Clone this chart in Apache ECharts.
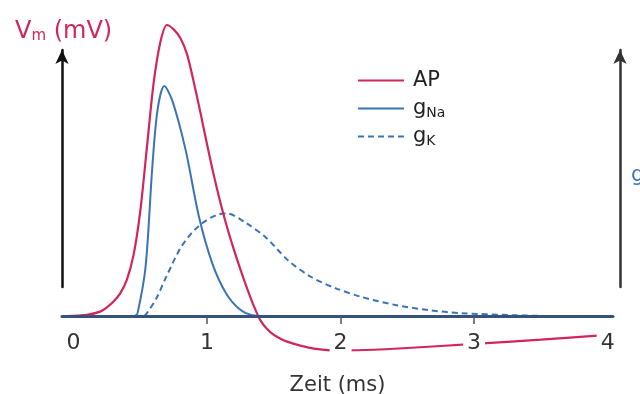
<!DOCTYPE html>
<html>
<head>
<meta charset="utf-8">
<script src="https://cdn.jsdelivr.net/npm/echarts@6/dist/echarts.min.js"></script>
<style>
  html, body { margin: 0; padding: 0; background: #fff; }
  #chart { width: 640px; height: 394px; }
</style>
</head>
<body>
<div id="chart"></div>
<script>
// time in ms, values in relative units (0 = rest / baseline)
const apTime = [-0.05, 0.1, 0.2, 0.25, 0.3, 0.35, 0.4, 0.45, 0.5, 0.55, 0.6, 0.65, 0.7, 0.75, 0.8, 0.85, 0.9, 0.95, 1.0, 1.05, 1.1, 1.15, 1.2, 1.25, 1.3, 1.35, 1.4, 1.45, 1.5, 1.55, 1.6, 1.7, 1.8, 1.9, 2.0, 2.25, 2.5, 3.0, 3.5, 4.0];
const apValue = [0, 0.4, 1.5, 3, 5, 7.8, 12.5, 21, 36, 58, 80, 94, 100, 98.5, 95.5, 90, 80.5, 70, 59, 48.5, 39, 30.5, 23, 16, 9.5, 3.5, -1.5, -4.5, -6.5, -7.8, -8.8, -10.2, -11.2, -11.7, -11.8, -11.6, -11, -9.6, -8.1, -6.5];

const gNaTime = [0.46, 0.48, 0.54, 0.59, 0.63, 0.68, 0.74, 0.84, 0.94, 1.04, 1.14, 1.24, 1.34, 1.45, 4.0];
const gNaValue = [0, 1, 17, 51, 71, 79, 74, 57, 34, 18, 8, 2.5, 0.3, 0, 0];

const gKTime = [0.53, 0.55, 0.62, 0.69, 0.81, 0.94, 1.09, 1.15, 1.29, 1.44, 1.61, 1.78, 1.96, 2.16, 2.41, 2.66, 2.9, 3.28, 3.6, 4.0];
const gKValue = [0, 1, 6, 13, 24, 31, 35, 35.2, 32, 27, 19, 13.4, 9.6, 6.5, 3.8, 2, 1, 0.3, 0, 0];

const xTicks = [0, 1, 2, 3, 4];
const xTickMarks = [1, 2, 3];

const pair = (xs, ys) => xs.map((x, i) => [x, ys[i]]);

const red = '#d1265a';
const blue = '#3a74b4';
const font = '"DejaVu Sans", "Liberation Sans", Arial, sans-serif';

const chart = echarts.init(document.getElementById('chart'), null, { renderer: 'canvas' });

const option = {
    backgroundColor: '#fff',
    animation: false,
    textStyle: { fontFamily: font },
    title: [
        {
            text: '{v|V}{s|m}{v| (mV)}',
            left: 10,
            top: 14,
            textStyle: {
                rich: {
                    v: { fontSize: 24, color: red, fontFamily: font, fontWeight: 'normal' },
                    s: { fontSize: 15, color: red, fontFamily: font, fontWeight: 'normal', padding: [10, 0, 0, 0] }
                }
            }
        },
        {
            text: 'g',
            left: 626,
            top: 160,
            textStyle: { fontSize: 21, fontWeight: 'normal', color: blue, fontFamily: font }
        }
    ],
    legend: {
        left: 352,
        top: 65,
        orient: 'vertical',
        itemWidth: 46,
        itemHeight: 14,
        itemGap: 6,
        data: ['AP', 'gNa', 'gK'],
        itemStyle: { opacity: 0 },
        formatter: (name) => {
            if (name === 'AP') return '{b|AP}{s| }';
            return '{b|g}{s|' + name.slice(1) + '}';
        },
        textStyle: {
            padding: [0, 0, 0, 4],
            rich: {
                b: { fontSize: 21, color: '#222', fontFamily: font },
                s: { fontSize: 14, color: '#222', fontFamily: font, padding: [9, 0, 0, 0] }
            }
        }
    },
    grid: [
        { left: 62, right: 27, top: 25, bottom: 78, outerBoundsMode: 'none' },
        { left: 62, right: 20, top: 50, bottom: 107, outerBoundsMode: 'none' }
    ],
    xAxis: [
        {
            type: 'value',
            gridIndex: 0,
            min: -0.086,
            max: 4.04,
            z: 10,
            name: 'Zeit (ms)',
            nameLocation: 'middle',
            nameGap: 59,
            nameTextStyle: { fontSize: 21, color: '#333', fontFamily: font },
            axisLine: { lineStyle: { color: '#34527a', width: 3 } },
            axisTick: {
                show: true,
                customValues: xTickMarks,
                length: 8,
                lineStyle: { color: '#555', width: 1.5 }
            },
            axisLabel: {
                customValues: xTicks,
                margin: 16,
                fontSize: 22,
                color: '#333',
                fontFamily: font,
                backgroundColor: '#fff',
                padding: [0, 4, 0, 4]
            },
            splitLine: { show: false }
        },
        {
            type: 'value',
            gridIndex: 1,
            min: 0,
            max: 1,
            show: false
        }
    ],
    yAxis: [
        {
            type: 'value',
            gridIndex: 0,
            min: 0,
            max: 100,
            show: false
        },
        {
            type: 'value',
            gridIndex: 1,
            position: 'left',
            min: 0,
            max: 1,
            axisLine: {
                show: true,
                symbol: ['none', 'arrow'],
                symbolSize: [10, 14],
                lineStyle: { color: '#111', width: 2.5 }
            },
            axisTick: { show: false },
            axisLabel: { show: false },
            splitLine: { show: false }
        },
        {
            type: 'value',
            gridIndex: 1,
            position: 'right',
            min: 0,
            max: 1,
            axisLine: {
                show: true,
                symbol: ['none', 'arrow'],
                symbolSize: [10, 14],
                lineStyle: { color: '#333', width: 2.5 }
            },
            axisTick: { show: false },
            axisLabel: { show: false },
            splitLine: { show: false }
        }
    ],
    series: [
        {
            name: 'gK',
            type: 'line',
            data: pair(gKTime, gKValue),
            smooth: 0.3,
            symbol: 'none',
            clip: false,
            lineStyle: { color: blue, width: 2, type: [6, 4] },
            itemStyle: { color: blue }
        },
        {
            name: 'gNa',
            type: 'line',
            data: pair(gNaTime, gNaValue),
            smooth: 0.3,
            symbol: 'none',
            clip: false,
            lineStyle: { color: blue, width: 2 },
            itemStyle: { color: blue }
        },
        {
            name: 'AP',
            type: 'line',
            data: pair(apTime, apValue),
            smooth: 0.3,
            symbol: 'none',
            clip: false,
            lineStyle: { color: red, width: 2.2 },
            itemStyle: { color: red }
        }
    ]
};

chart.setOption(option);
</script>
</body>
</html>
